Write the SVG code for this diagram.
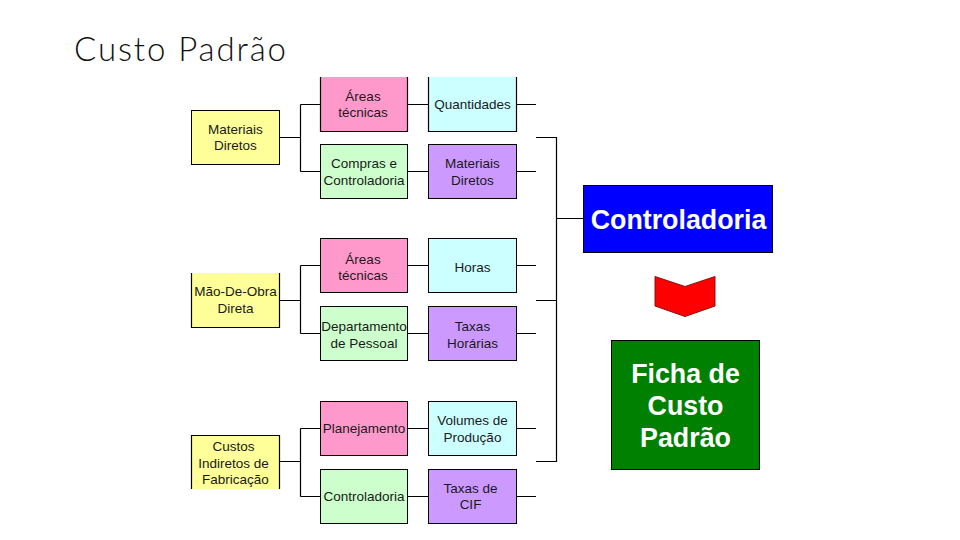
<svg xmlns="http://www.w3.org/2000/svg" width="960" height="540" viewBox="0 0 960 540">
<defs><style>
.b{stroke:#000;stroke-width:1}
.y{fill:#FFFF99}.p{fill:#FF99CC}.c{fill:#CCFFFF}.g{fill:#CCFFCC}.v{fill:#CC99FF}
.n{fill:none;stroke:#000;stroke-width:1.200}
text{font-family:"Liberation Sans",Arial,sans-serif;text-anchor:middle}
.t{font-size:13.500px;fill:#1a1a1a}
.w{font-size:26.800px;font-weight:bold;fill:#fff}
</style></defs>
<rect width="960" height="540" fill="#fff"/>
<text id="title" x="74" y="61" style="text-anchor:start;font-family:'Lato',sans-serif;font-size:33px;font-weight:300;fill:#111" textLength="212" lengthAdjust="spacing">Custo Padrão</text>
<g id="connectors" class="n">
<path d="M280 137.500H300.500M300.500 104.500V171.500M300.500 104.500H320M300.500 171.500H320M408 104.500H428M408 171.500H428M517 104.500H536M517 171.500H536"/>
<path d="M280 300.500H300.500M300.500 265.500V333.500M300.500 265.500H320M300.500 333.500H320M408 265.500H428M408 333.500H428M517 265.500H536M517 333.500H536"/>
<path d="M280 461.500H300.500M300.500 428.500V496.500M300.500 428.500H320M300.500 496.500H320M408 428.500H428M408 496.500H428M517 428.500H536M517 496.500H536"/>
<path d="M536 137.500H556.500V461.500H536M536 300.500H556.500M556.500 218.500H583"/>
</g>
<g id="n-materiais"><rect class="y b" x="191.500" y="110.500" width="88" height="54"/><text class="t" x="235.500" y="134">Materiais</text><text class="t" x="235.500" y="150">Diretos</text></g>
<g id="n-areas1"><rect class="p" x="320.500" y="77" width="87" height="54.500"/><path class="n" d="M320.500 77V131.500H407.500V77"/><text class="t" x="363" y="101">Áreas</text><text class="t" x="363" y="117">técnicas</text></g>
<g id="n-quant"><rect class="c" x="428.500" y="77" width="88" height="54.500"/><path class="n" d="M428.500 77V131.500H516.500V77"/><text class="t" x="472.500" y="109">Quantidades</text></g>
<g id="n-compras"><rect class="g b" x="320.500" y="144.500" width="87" height="54"/><text class="t" x="364" y="168">Compras e</text><text class="t" x="364" y="185">Controladoria</text></g>
<g id="n-matdir"><rect class="v b" x="428.500" y="144.500" width="88" height="54"/><text class="t" x="472.500" y="168">Materiais</text><text class="t" x="472.500" y="185">Diretos</text></g>
<g id="n-mao"><rect class="y" x="191.500" y="273" width="88" height="54.500"/><path class="n" d="M191.500 273V327.500H279.500V273"/><text class="t" x="235.500" y="296">Mão-De-Obra</text><text class="t" x="235.500" y="313">Direta</text></g>
<g id="n-areas2"><rect class="p b" x="320.500" y="238.500" width="87" height="54"/><text class="t" x="363" y="264">Áreas</text><text class="t" x="363" y="280">técnicas</text></g>
<g id="n-horas"><rect class="c b" x="428.500" y="238.500" width="88" height="54"/><text class="t" x="472.500" y="272">Horas</text></g>
<g id="n-depto"><rect class="g b" x="320.500" y="306.500" width="87" height="54"/><text class="t" x="364" y="331">Departamento</text><text class="t" x="364" y="348">de Pessoal</text></g>
<g id="n-taxas"><rect class="v b" x="428.500" y="306.500" width="88" height="54"/><text class="t" x="472.500" y="331">Taxas</text><text class="t" x="472.500" y="348">Horárias</text></g>
<g id="n-custos"><rect class="y" x="191.500" y="435.500" width="88" height="53.500"/><path class="n" d="M191.500 489V435.500H279.500V489"/><text class="t" x="233.500" y="451">Custos</text><text class="t" x="233.500" y="468">Indiretos de</text><text class="t" x="235.500" y="484">Fabricação</text></g>
<g id="n-plan"><rect class="p b" x="320.500" y="401.500" width="87" height="54"/><text class="t" x="364" y="433">Planejamento</text></g>
<g id="n-vol"><rect class="c b" x="428.500" y="401.500" width="88" height="54"/><text class="t" x="472.500" y="425">Volumes de</text><text class="t" x="472.500" y="442">Produção</text></g>
<g id="n-contr"><rect class="g b" x="320.500" y="469.500" width="87" height="54"/><text class="t" x="364" y="501">Controladoria</text></g>
<g id="n-cif"><rect class="v b" x="428.500" y="469.500" width="88" height="54"/><text class="t" x="470.500" y="493">Taxas de</text><text class="t" x="470.500" y="509">CIF</text></g>
<g id="n-controladoria"><rect x="583.500" y="185.500" width="189" height="67" fill="#0000FF" stroke="#000"/><text class="w" x="678.500" y="229">Controladoria</text></g>
<g id="n-arrow"><path d="M655 276.500L685 286.500L715 276.500V306L685 316.500L655 306Z" fill="#FF0000" stroke="#8a1010" stroke-width="1"/></g>
<g id="n-ficha"><rect x="611.500" y="340.500" width="148" height="129" fill="#008000" stroke="#000"/><text class="w" x="685.500" y="383">Ficha de</text><text class="w" x="685.500" y="415">Custo</text><text class="w" x="685.500" y="447">Padrão</text></g>
</svg>
